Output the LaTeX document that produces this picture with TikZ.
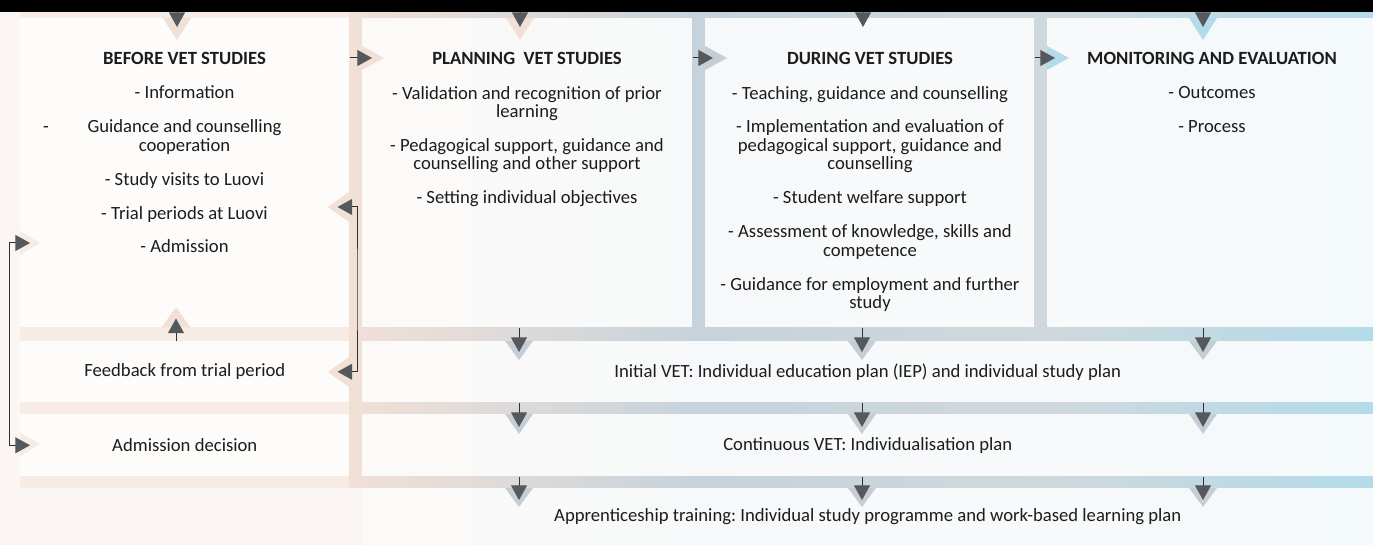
\documentclass[tikz,border=0pt]{standalone}
\usepackage{fontspec}
\setmainfont{Carlito}
\usetikzlibrary{arrows.meta,positioning}

\definecolor{paper}{HTML}{FBF6F3}
\definecolor{bandL}{HTML}{F6EBE5}
\definecolor{bandA}{HTML}{F1E0D6}
\definecolor{bandB}{HTML}{C6D3DC}
\definecolor{bandC}{HTML}{CFD8DC}
\definecolor{bandD}{HTML}{B4DBEA}
\definecolor{tipgrey}{HTML}{55595C}
\definecolor{linegrey}{HTML}{2E3033}
\definecolor{haloP}{HTML}{F0E0D6}
\definecolor{haloG}{HTML}{C6CED5}
\definecolor{haloB}{HTML}{B4DBEA}
\definecolor{ink}{HTML}{1C1C1C}

\begin{document}
\frenchspacing
\begin{tikzpicture}[x=0.75pt,y=-0.75pt,font=\fontsize{14}{13.9}\selectfont,text=ink,
  box/.style={fill=white,fill opacity=0.86,text opacity=1,inner sep=0pt,anchor=north west},
  head/.style={font=\fontsize{14}{13.9}\selectfont\bfseries,inner sep=0pt},
  items/.style={align=center,inner sep=0pt,anchor=north},
  tip/.style={draw=linegrey,line width=0.75pt,-{Triangle[length=11pt,width=12pt,color=tipgrey]}},
  dtip/.style={draw=linegrey,line width=0.75pt,{Triangle[length=11pt,width=12pt,color=tipgrey]}-{Triangle[length=11pt,width=12pt,color=tipgrey]}},
  halo/.style={fill=#1}]

    \useasboundingbox (0,0) rectangle (1373,545);

    % background bands
    \fill[paper] (0,0) rectangle (1373,545);
    \fill[bandL] (20,12) rectangle (349,488);
    \shade[left color=bandA,right color=bandB] (349,12) rectangle (700,545);
    \shade[left color=bandB,right color=bandC] (700,12) rectangle (1040,545);
    \shade[left color=bandC,right color=bandD] (1040,12) rectangle (1373,545);
    \fill[paper] (0,488) rectangle (362,545);
    \fill[black] (0,0) rectangle (1373,12.5);

    % boxes
    \node[box,minimum width=246.75pt,minimum height=231.75pt] (before) at (20,18) {};
    \node[box,minimum width=247.5pt,minimum height=231.75pt] (planning) at (362,18) {};
    \node[box,minimum width=246.75pt,minimum height=231.75pt] (during) at (705,18) {};
    \node[box,minimum width=244.5pt,minimum height=231.75pt] (monitoring) at (1047,18) {};

    \node[box,minimum width=246.75pt,minimum height=45.75pt] (feedback) at (20,341) {Feedback from trial period};
    \node[box,minimum width=758.25pt,minimum height=45.75pt] (initial) at (362,341) {Initial VET: Individual education plan (IEP) and individual study plan};
    \node[box,minimum width=246.75pt,minimum height=46.5pt] (admission) at (20,414) {Admission decision};
    \node[box,minimum width=758.25pt,minimum height=46.5pt] (continuous) at (362,414) {Continuous VET: Individualisation plan};
    \node[box,minimum width=758.25pt,minimum height=42.75pt] (apprentice) at (362,488) {Apprenticeship training: Individual study programme and work-based learning plan};

    % halos
    \fill[halo=haloP] (163,18) -- (191,18) -- (177,40) -- cycle;
    \fill[halo=haloP] (506,18) -- (534,18) -- (520,40) -- cycle;
    \fill[halo=haloB] (1189,18) -- (1217,18) -- (1203,40) -- cycle;
    \fill[halo=haloP] (362,46) -- (362,70) -- (384,58) -- cycle;
    \fill[halo=haloG] (705,46) -- (705,70) -- (727,58) -- cycle;
    \fill[halo=haloB] (1047,46) -- (1047,70) -- (1069,58) -- cycle;
    \fill[halo=haloP] (349,192) -- (349,222) -- (328,207) -- cycle;
    \fill[halo=haloP] (349,357) -- (349,387) -- (328,372) -- cycle;
    \fill[halo=bandL] (20,231) -- (20,255) -- (40,243) -- cycle;
    \fill[halo=bandL] (20,432) -- (20,456) -- (40,444) -- cycle;
    \fill[halo=haloP] (162,327) -- (190,327) -- (176,307) -- cycle;
    \fill[halo=haloG] (505,341) -- (533,341) -- (519,360) -- cycle;
    \fill[halo=haloG] (848,341) -- (876,341) -- (862,360) -- cycle;
    \fill[halo=haloG] (1189,341) -- (1217,341) -- (1203,360) -- cycle;
    \fill[halo=haloG] (505,414) -- (533,414) -- (519,434) -- cycle;
    \fill[halo=haloG] (848,414) -- (876,414) -- (862,434) -- cycle;
    \fill[halo=haloG] (1189,414) -- (1217,414) -- (1203,434) -- cycle;
    \fill[halo=haloG] (505,488) -- (533,488) -- (519,507) -- cycle;
    \fill[halo=haloG] (848,488) -- (876,488) -- (862,507) -- cycle;
    \fill[halo=haloG] (1189,488) -- (1217,488) -- (1203,507) -- cycle;

    % column texts
    \node[head] (hBefore) at (184.5,58) {BEFORE VET STUDIES};
    \node[items,below=16pt of hBefore] (lBefore) {- Information\\[11.5pt]
        \llap{-\hspace{29pt}}Guidance and counselling\\cooperation\\[11.5pt]
        - Study visits to Luovi\\[11.5pt]
        - Trial periods at Luovi\\[11.5pt]
        - Admission};

    \node[head] (hPlanning) at (527,58) {PLANNING\ \ VET STUDIES};
    \node[items,below=16pt of hPlanning] (lPlanning) {- Validation and recognition of prior\\learning\\[11.5pt]
        - Pedagogical support, guidance and\\counselling and other support\\[11.5pt]
        - Setting individual objectives};

    \node[head] (hDuring) at (870,58) {DURING VET STUDIES};
    \node[items,below=16pt of hDuring] (lDuring) {- Teaching, guidance and counselling\\[11.5pt]
        - Implementation and evaluation of\\pedagogical support, guidance and\\counselling\\[11.5pt]
        - Student welfare support\\[11.5pt]
        - Assessment of knowledge, skills and\\competence\\[11.5pt]
        - Guidance for employment and further\\study};

    \node[head] (hMonitoring) at (1212,58) {MONITORING AND EVALUATION};
    \node[items,below=16pt of hMonitoring] (lMonitoring) {- Outcomes\\[11.5pt]
        - Process};

    % arrows
    \coordinate (in1) at (177,12.5);
    \coordinate (in2) at (520,12.5);
    \coordinate (in3) at (863,12.5);
    \coordinate (in4) at (1203,12.5);
    \draw[tip] (in1) -- ++(0,14.5);
    \draw[tip] (in2) -- ++(0,14.5);
    \draw[tip] (in3) -- ++(0,14.5);
    \draw[tip] (in4) -- ++(0,14.5);

    \draw[tip,shorten >=-7.5pt] (before.east |- hBefore) -- (planning.west |- hBefore);
    \draw[tip,shorten >=-6pt] (planning.east |- hPlanning) -- (during.west |- hPlanning);
    \draw[tip,shorten >=-6pt] (during.east |- hDuring) -- (monitoring.west |- hDuring);

    \draw[tip,shorten >=-8.25pt] (planning.south -| 519,0) -- (initial.north -| 519,0);
    \draw[tip,shorten >=-8.25pt] (during.south -| 862,0) -- (initial.north -| 862,0);
    \draw[tip,shorten >=-8.25pt] (monitoring.south -| 1203,0) -- (initial.north -| 1203,0);
    \draw[tip,shorten >=-9.75pt] (initial.south -| 519,0) -- (continuous.north -| 519,0);
    \draw[tip,shorten >=-9.75pt] (initial.south -| 862,0) -- (continuous.north -| 862,0);
    \draw[tip,shorten >=-9.75pt] (initial.south -| 1203,0) -- (continuous.north -| 1203,0);
    \draw[tip,shorten >=-9pt] (continuous.south -| 519,0) -- (apprentice.north -| 519,0);
    \draw[tip,shorten >=-9pt] (continuous.south -| 862,0) -- (apprentice.north -| 862,0);
    \draw[tip,shorten >=-9pt] (continuous.south -| 1203,0) -- (apprentice.north -| 1203,0);

    \draw[tip,shorten >=-6.75pt] (feedback.north -| 176,0) -- (before.south -| 176,0);
    \draw[dtip,shorten <=-9pt,shorten >=-9pt] (before.east |- 0,207) -| (357,290) |- (feedback.east);
    \draw[dtip,shorten <=-7.5pt,shorten >=-7.5pt] (before.west |- 0,243) -| (9.5,350) |- (admission.west);
\end{tikzpicture}
\end{document}
